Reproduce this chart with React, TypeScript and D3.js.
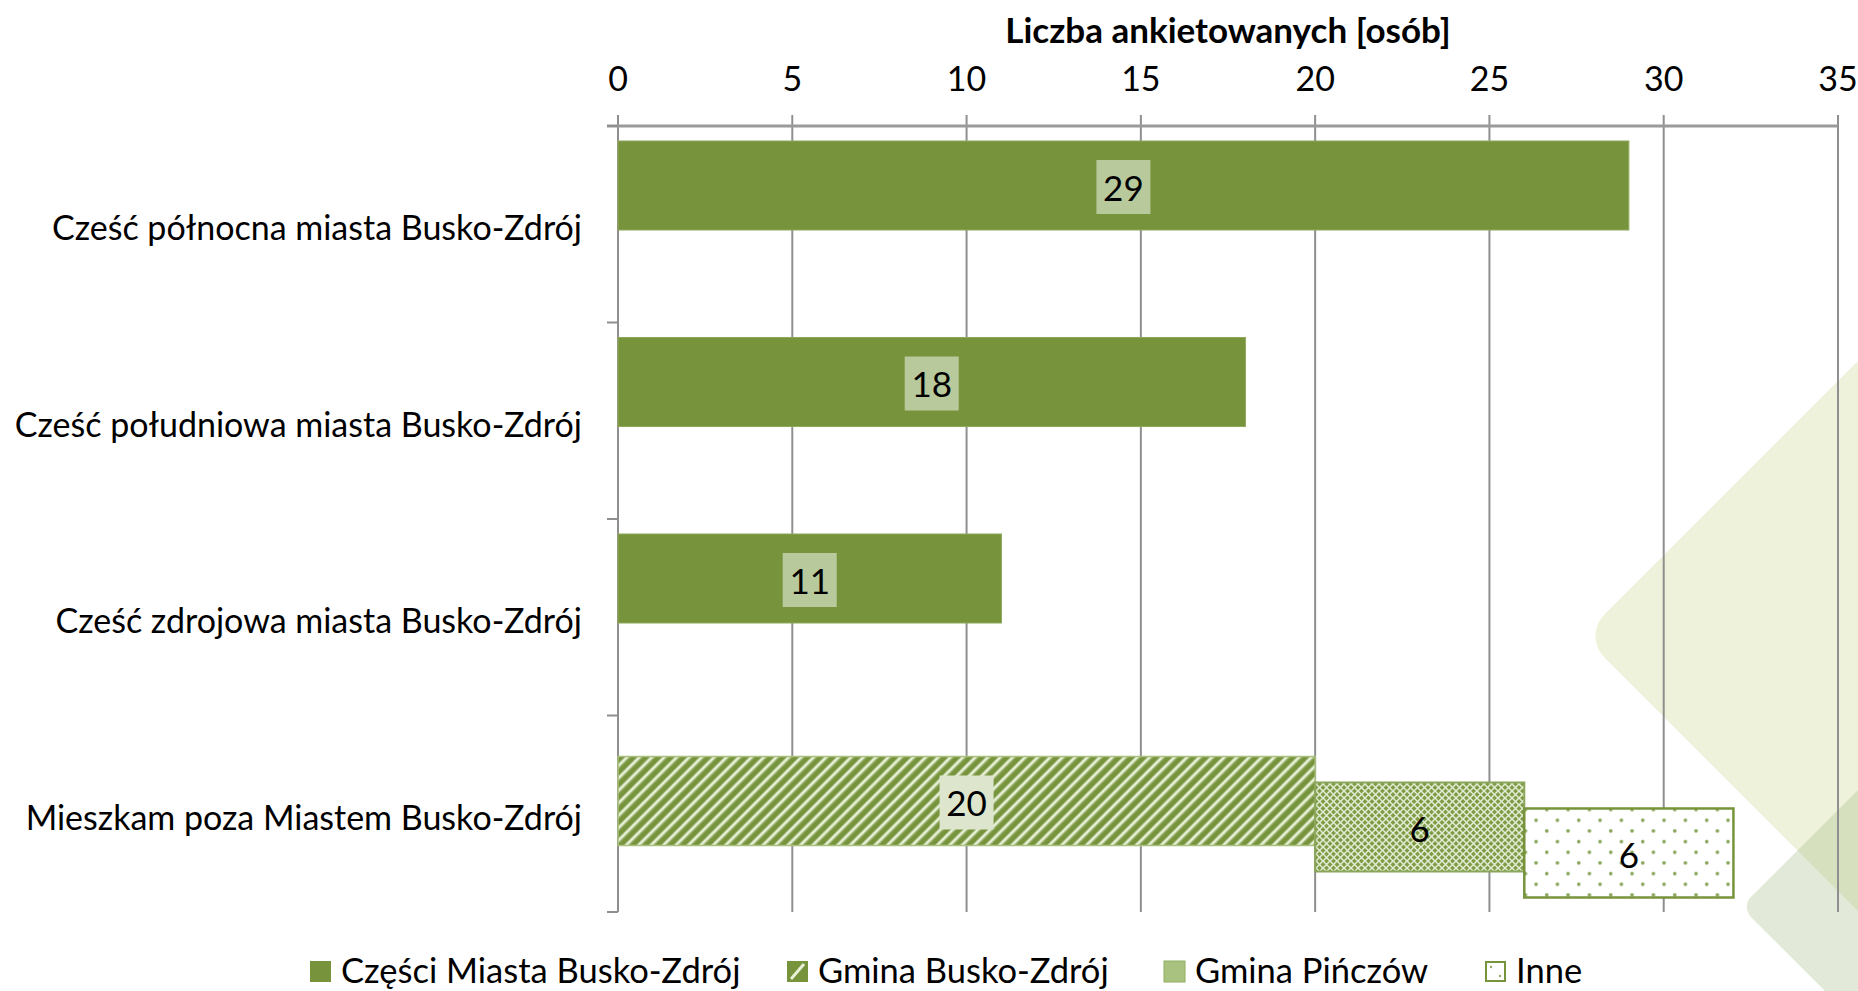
import React from "react";
import * as d3 from "d3";

const categories = [
  "Cześć północna miasta Busko-Zdrój",
  "Cześć południowa miasta Busko-Zdrój",
  "Cześć zdrojowa miasta Busko-Zdrój",
  "Mieszkam poza Miastem Busko-Zdrój",
];
const seriesNames = ["Części Miasta Busko-Zdrój", "Gmina Busko-Zdrój", "Gmina Pińczów", "Inne"];
const czesciMiasta = [29, 18, 11, 0];
const gminaBusko = [0, 0, 0, 20];
const gminaPinczow = [0, 0, 0, 6];
const inne = [0, 0, 0, 6];
const xTicks = [0, 5, 10, 15, 20, 25, 30, 35];
const axisTitle = "Liczba ankietowanych [osób]";

const W = 1858;
const H = 991;
const FONT = "Lato, 'Open Sans', sans-serif";
const GREEN = "#77933C";
const GRID = "#8F8F8F";

export default function App() {
  const x = d3.scaleLinear().domain([0, 35]).range([618, 1838]);
  const y = d3.scaleBand<string>().domain(categories).range([126, 912]).padding(0);
  const bw = y.bandwidth();
  const barH = bw * 0.453;
  const offset0 = bw * 0.0763;
  const step = bw * 0.1323;

  const rows = categories.map((c, i) => ({
    cat: c,
    s0: czesciMiasta[i],
    s1: gminaBusko[i],
    s2: gminaPinczow[i],
    s3: inne[i],
  }));
  const keys = ["s0", "s1", "s2", "s3"];
  const stacked = d3.stack<any>().keys(keys)(rows);

  const fills = ["url(#solidG)", "url(#stripes)", "url(#cross)", "url(#dots)"];
  const strokes = ["#8FA85C", "#A9C07F", "#8AA65A", GREEN];
  const strokeW = [1, 1.5, 2, 2.5];
  const boxFill = ["#B8C99B", "#DDE6CC", null, null];

  const x0 = x(0);
  const x35 = x(35);
  const plotTop = y.range()[0];
  const plotBot = y.range()[1];

  const diamond = (cx: number, cy: number, half: number, r: number) => {
    const s = half * Math.SQRT2;
    return { cx, cy, s, r };
  };
  const d1 = diamond(1583 + 600, 636, 600, 30);
  const d2 = diamond(1741 + 600, 907, 600, 14);

  const legendX = [310, 787, 1164, 1485];
  const legendY = 961;
  const mk = 21;
  const SP = 8.8;

  return (
    <svg
      width={W}
      height={H}
      style={{ position: "absolute", left: 0, top: 0, background: "#fff" }}
      fontFamily={FONT}
    >
      <defs>
        <pattern id="solidG" patternUnits="userSpaceOnUse" width={10} height={10}>
          <rect width={10} height={10} fill={GREEN} />
        </pattern>
        <pattern id="stripes" patternUnits="userSpaceOnUse" width={SP} height={SP} patternTransform="rotate(45)">
          <rect width={SP} height={SP} fill={GREEN} />
          <rect x={0.8} width={2.6} height={SP} fill="#E8F0D8" />
          <rect x={0} width={0.8} height={SP} fill="#B4C994" />
          <rect x={3.4} width={0.8} height={SP} fill="#B4C994" />
        </pattern>
        <pattern id="cross" patternUnits="userSpaceOnUse" width={7} height={7}>
          <rect width={7} height={7} fill="#7F9B45" />
          <path d="M0,0 L7,7 M7,0 L0,7" stroke="#EEF4E2" strokeWidth={1.5} opacity={0.9} />
        </pattern>
        <pattern
          id="dots"
          patternUnits="userSpaceOnUse"
          x={x(26) + 10}
          y={y(categories[3])! + offset0 + 3 * step + 10}
          width={21.33}
          height={21.33}
        >
          <rect width={21.33} height={21.33} fill="#fff" />
          <circle cx={1.8} cy={1.8} r={1.8} fill="#86A356" />
          <circle cx={12.47} cy={12.47} r={1.8} fill="#86A356" />
        </pattern>
      </defs>

      <rect width={W} height={H} fill="#fff" />

      <rect
        x={-d1.s / 2}
        y={-d1.s / 2}
        width={d1.s}
        height={d1.s}
        rx={d1.r}
        fill="#EFF2DB"
        transform={`translate(${d1.cx},${d1.cy}) rotate(45)`}
      />
      <rect
        x={-d2.s / 2}
        y={-d2.s / 2}
        width={d2.s}
        height={d2.s}
        rx={d2.r}
        fill="rgb(151,176,116)"
        fillOpacity={0.28}
        transform={`translate(${d2.cx},${d2.cy}) rotate(45)`}
      />

      <text x={(x0 + x35) / 2} y={43} textAnchor="middle" fontWeight="bold" fontSize={35} fill="#000">
        {axisTitle}
      </text>

      {xTicks.map((t) => (
        <text key={"tl" + t} x={x(t)} y={91} textAnchor="middle" fontSize={34} fill="#000">
          {t}
        </text>
      ))}

      {xTicks.map((t) => (
        <line key={"g" + t} x1={x(t)} x2={x(t)} y1={plotTop - 11} y2={plotBot} stroke={GRID} strokeWidth={2} />
      ))}
      <line x1={x0 - 11} x2={x35} y1={plotTop} y2={plotTop} stroke="#9A9A9A" strokeWidth={3} />
      {[...categories.map((c) => y(c)!), plotBot].map((v, i) => (
        <line key={"ct" + i} x1={x0 - 11} x2={x0} y1={v} y2={v} stroke={GRID} strokeWidth={2} />
      ))}

      {categories.map((c) => (
        <text key={c} x={582} y={y(c)! + bw / 2 + 16} textAnchor="end" fontSize={34} fill="#000">
          {c}
        </text>
      ))}

      {stacked.map((layer, si) =>
        layer.map((d, ci) => {
          const v = d[1] - d[0];
          if (!v) return null;
          const top = y(categories[ci])! + offset0 + si * step;
          return (
            <rect
              key={`b${si}-${ci}`}
              x={x(d[0])}
              y={top}
              width={x(d[1]) - x(d[0])}
              height={barH}
              fill={fills[si]}
              stroke={strokes[si]}
              strokeWidth={strokeW[si]}
            />
          );
        })
      )}

      {stacked.map((layer, si) =>
        layer.map((d, ci) => {
          const v = d[1] - d[0];
          if (!v) return null;
          const cx = (x(d[0]) + x(d[1])) / 2;
          const cy = y(categories[ci])! + offset0 + si * step + barH / 2;
          const bf = boxFill[si];
          return (
            <g key={`l${si}-${ci}`}>
              {bf && <rect x={cx - 27} y={cy - 25.5} width={54} height={54} fill={bf} />}
              <text x={cx} y={cy + 15} textAnchor="middle" fontSize={35} fill="#000">
                {v}
              </text>
            </g>
          );
        })
      )}

      <g>
        <rect x={legendX[0]} y={legendY} width={mk} height={mk} fill={GREEN} />
        <rect x={legendX[1]} y={legendY} width={mk} height={mk} fill={GREEN} />
        <line
          x1={legendX[1] + 4}
          y1={legendY + mk - 3}
          x2={legendX[1] + mk - 4}
          y2={legendY + 3}
          stroke="#E8F0D8"
          strokeWidth={3}
        />
        <rect x={legendX[2]} y={legendY} width={mk} height={mk} fill="#A9C27F" stroke="#92AE62" strokeWidth={1} />
        <rect x={legendX[3] + 1} y={legendY + 1} width={mk - 2} height={mk - 2} fill="#fff" stroke={GREEN} strokeWidth={2} />
        <circle cx={legendX[3] + 6} cy={legendY + 6} r={1.2} fill="#8FAA63" />
        <circle cx={legendX[3] + 15} cy={legendY + 15} r={1.2} fill="#8FAA63" />
        {seriesNames.map((n, i) => (
          <text key={n} x={legendX[i] + 31} y={legendY + 22} fontSize={34.5} fill="#000">
            {n}
          </text>
        ))}
      </g>
    </svg>
  );
}
